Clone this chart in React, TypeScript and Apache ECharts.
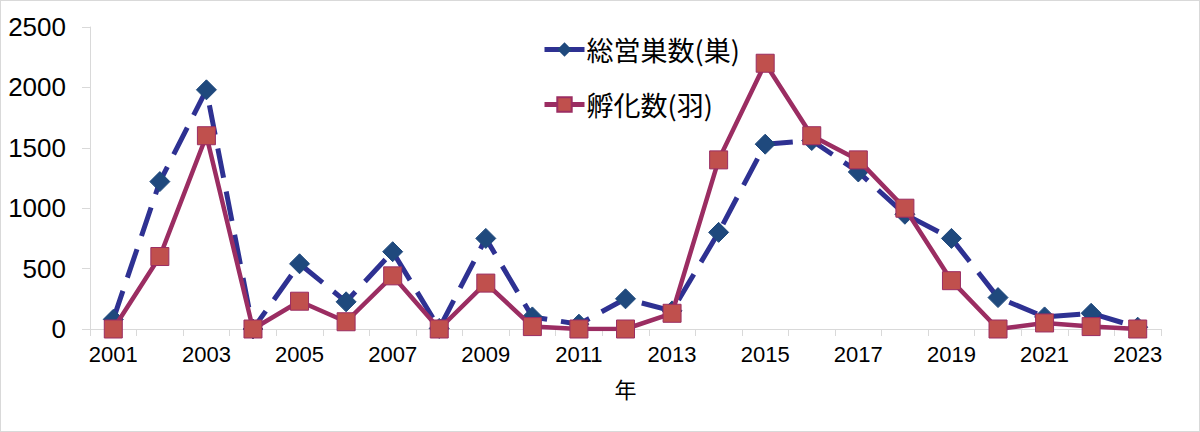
import React, { useEffect, useRef } from "react";
import * as echarts from "echarts";

const years = ["2001","2002","2003","2004","2005","2006","2007","2008","2009","2010","2011","2012","2013","2014","2015","2016","2017","2018","2019","2020","2021","2022","2023"];
const nests = [80, 1220, 1980, 0, 540, 225, 640, 5, 750, 100, 40, 250, 150, 800, 1530, 1560, 1300, 950, 750, 260, 100, 130, 15];
const hatched = [0, 600, 1600, 0, 230, 60, 440, 0, 380, 20, 0, 0, 130, 1400, 2200, 1600, 1400, 1000, 400, 0, 50, 20, 0];
const seriesNames = ["総営巣数(巣)", "孵化数(羽)"];
const xName = "年";

export default function App() {
  const ref = useRef<HTMLDivElement>(null);
  useEffect(() => {
    document.body.style.margin = "0";
    const chart = echarts.init(ref.current!, undefined, { renderer: "svg" });
    const font = "'Liberation Sans', Arial, sans-serif";
    chart.setOption({
      animation: false,
      backgroundColor: "#ffffff",
      grid: { left: 89, right: 38, top: 26, bottom: 102 },
      legend: {
        orient: "vertical",
        left: 536,
        top: 30,
        itemWidth: 40,
        itemHeight: 18,
        itemGap: 28,
        textStyle: {
          fontSize: 27,
          color: "#000",
          fontFamily: "'Noto Sans CJK JP', sans-serif",
          padding: [0, 0, 0, -3],
        },
        data: [
          { name: seriesNames[0], lineStyle: { type: "solid", width: 5, color: "#2E3192" } },
          { name: seriesNames[1], lineStyle: { type: "solid", width: 5, color: "#9B2D62" } },
        ],
      },
      xAxis: {
        type: "category",
        data: years,
        boundaryGap: true,
        name: xName,
        nameLocation: "middle",
        nameGap: 48,
        nameTextStyle: { fontSize: 22, color: "#000", fontFamily: "'Noto Sans CJK JP', sans-serif" },
        axisLine: { lineStyle: { color: "#d9d9d9", width: 1 } },
        axisTick: { show: true, length: 7, interval: 0, lineStyle: { color: "#d9d9d9" } },
        axisLabel: { interval: 1, fontSize: 22, color: "#000", fontFamily: font, margin: 14 },
        splitLine: { show: false },
      },
      yAxis: {
        type: "value",
        min: 0,
        max: 2500,
        interval: 500,
        axisLine: { show: true, lineStyle: { color: "#d9d9d9", width: 1 } },
        axisTick: { show: true, length: 8, lineStyle: { color: "#d9d9d9" } },
        axisLabel: {
          fontSize: 26,
          color: "#000",
          fontFamily: font,
          margin: 24,
          formatter: (v: number) => String(v),
        },
        splitLine: { show: false },
      },
      series: [
        {
          name: seriesNames[0],
          type: "line",
          data: nests,
          symbol: "diamond",
          symbolSize: 20,
          z: 2,
          lineStyle: { color: "#2E3192", width: 5, type: [30, 14] },
          itemStyle: { color: "#1F497D", borderColor: "#1F497D" },
        },
        {
          name: seriesNames[1],
          type: "line",
          data: hatched,
          symbol: "rect",
          symbolSize: 18,
          z: 3,
          lineStyle: { color: "#9B2D62", width: 4.5 },
          itemStyle: { color: "#C0504D", borderColor: "#9B2D62", borderWidth: 1 },
        },
      ],
    });
    return () => chart.dispose();
  }, []);
  return (
    <div
      ref={ref}
      style={{ width: 1200, height: 432, border: "1px solid #d9d9d9", boxSizing: "border-box" }}
    />
  );
}
